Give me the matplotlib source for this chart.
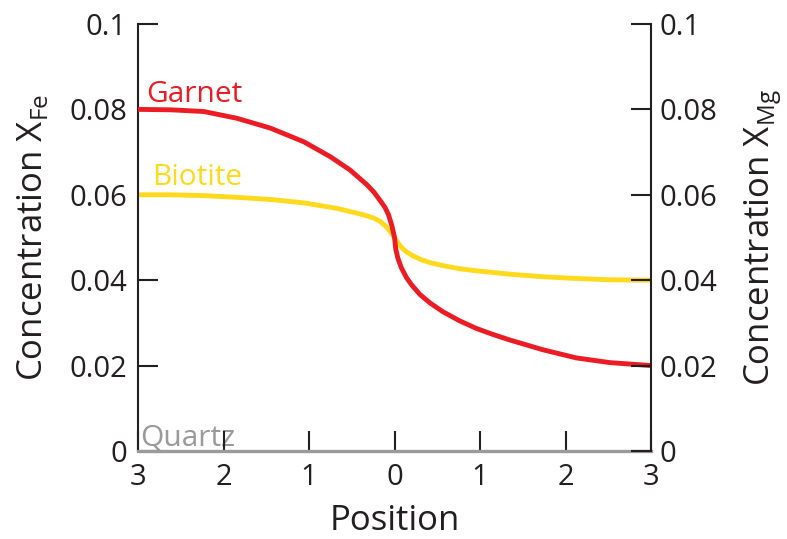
import numpy as np
import matplotlib.pyplot as plt

plt.rcParams['font.family'] = ['Open Sans', 'DejaVu Sans']

# positions across the grain boundary (0 = boundary)
garnet_x = [-3.0, -2.62, -2.23, -1.84, -1.45, -1.06, -0.75, -0.52, -0.32,
            -0.24, -0.17, -0.11, -0.07, -0.03, 0.0, 0.015, 0.04, 0.08, 0.14,
            0.2, 0.3, 0.42, 0.567, 0.76, 0.957, 1.15, 1.347, 1.737, 2.126, 2.517, 3.0]
garnet_y = [0.0800, 0.0799, 0.0795, 0.0779, 0.0756, 0.0724, 0.0689, 0.0658, 0.0623,
            0.0606, 0.0587, 0.0570, 0.0553, 0.0527, 0.0500, 0.0472, 0.0451, 0.0429, 0.0406,
            0.0389, 0.0366, 0.0346, 0.0326, 0.0305, 0.0287, 0.0273, 0.0260, 0.0237, 0.0218, 0.0207, 0.0200]

biotite_x = [-3.0, -2.62, -2.23, -1.84, -1.45, -1.06, -0.67, -0.36, -0.25, -0.17,
             -0.1, -0.04, 0.0, 0.056, 0.1, 0.15, 0.216, 0.3, 0.4, 0.567, 0.757, 0.957,
             1.347, 1.737, 2.126, 2.517, 3.0]
biotite_y = [0.0600, 0.0600, 0.0598, 0.0594, 0.0589, 0.0581, 0.0568, 0.0553, 0.0546, 0.0538,
             0.0526, 0.0511, 0.0500, 0.0483, 0.0473, 0.0465, 0.0457, 0.0449, 0.0442, 0.0434, 0.0427, 0.0422,
             0.0414, 0.0408, 0.0404, 0.0401, 0.0400]

quartz_x = [-3.0, 3.0]
quartz_y = [0.0, 0.0]

xticks = [-3, -2, -1, 0, 1, 2, 3]
xticklabels = ['3', '2', '1', '0', '1', '2', '3']
yticks = [0, 0.02, 0.04, 0.06, 0.08, 0.1]
yticklabels = ['0', '0.02', '0.04', '0.06', '0.08', '0.1']

red = '#ec1c24'
yellow = '#ffd91c'
grey = '#9a9a9a'
ink = '#231f20'

fig = plt.figure(figsize=(7.87, 5.39), dpi=100)
ax = fig.add_axes([0.1754, 0.1633, 0.8272 - 0.1754, 0.9555 - 0.1633])

ax.plot(garnet_x, garnet_y, color=red, lw=3.5, solid_joinstyle='round', zorder=3)
ax.plot(biotite_x, biotite_y, color=yellow, lw=3.5, solid_joinstyle='round', zorder=2)
ax.plot(quartz_x, quartz_y, color=grey, lw=2.4, clip_on=False, zorder=4)

ax.set_xlim(-3, 3)
ax.set_ylim(0, 0.1)

for s in ['top', 'bottom', 'right']:
    ax.spines[s].set_visible(False)
ax.spines['left'].set_linewidth(1.5)
ax.spines['left'].set_color(ink)

ax.set_xticks(xticks)
ax.set_xticklabels(xticklabels)
ax.set_yticks(yticks)
ax.set_yticklabels(yticklabels)
ax.tick_params(axis='both', direction='in', length=14.5, width=1.5, color=ink,
               labelsize=21, labelcolor=ink)
ax.tick_params(axis='y', pad=8)
ax.tick_params(axis='x', pad=9)

ax.set_xlabel('Position', fontsize=25, color=ink, labelpad=8)
ax.set_ylabel('Concentration X$_\\mathregular{Fe}$', fontsize=25, color=ink, labelpad=14)

ax2 = ax.twinx()
ax2.set_ylim(0, 0.1)
for s in ['top', 'bottom', 'left']:
    ax2.spines[s].set_visible(False)
ax2.spines['right'].set_linewidth(1.5)
ax2.spines['right'].set_color(ink)
ax2.set_yticks(yticks)
ax2.set_yticklabels(yticklabels)
ax2.tick_params(axis='y', direction='in', length=14.5, width=1.5, color=ink,
                labelsize=21, labelcolor=ink, pad=6)
ax2.set_ylabel('Concentration X$_\\mathregular{Mg}$', fontsize=25, color=ink, labelpad=18)

ax.text(-2.9, 0.0818, 'Garnet', color=red, fontsize=21.5)
ax.text(-2.84, 0.0623, 'Biotite', color=yellow, fontsize=21.5)
ax.text(-2.97, 0.0014, 'Quartz', color=grey, fontsize=21.5, zorder=1)

fig.savefig('out.png', dpi=100)
